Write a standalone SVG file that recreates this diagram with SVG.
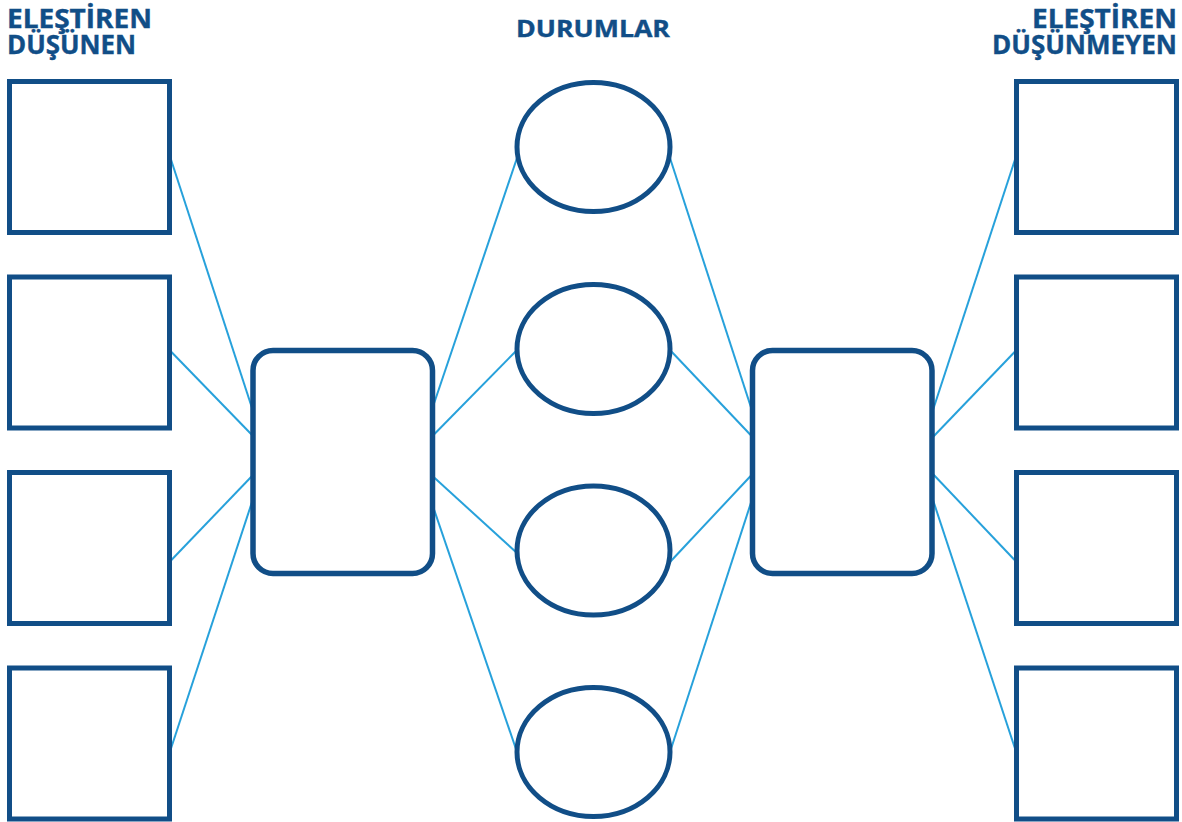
<svg xmlns="http://www.w3.org/2000/svg" width="1182" height="822" viewBox="0 0 1182 822">
<style>
.t{font-family:"Open Sans","Liberation Sans",sans-serif;font-weight:700;fill:#114e87;stroke:#114e87;stroke-width:0.4}
.sq{fill:#fff;stroke:#114e87;stroke-width:5}
.rr{fill:#fff;stroke:#114e87;stroke-width:5.5}
.el{fill:#fff;stroke:#114e87;stroke-width:5}
.c line{stroke:#27a1db;stroke-width:2}
</style>
<rect width="1182" height="822" fill="#fff"/>
<g id="titles">
<text class="t" x="7" y="28" font-size="26.5" textLength="145" lengthAdjust="spacingAndGlyphs">ELEŞTİREN</text>
<text class="t" x="7" y="54" font-size="26.5" textLength="129" lengthAdjust="spacingAndGlyphs">DÜŞÜNEN</text>
<text class="t" x="516" y="37" font-size="23.5" textLength="154" lengthAdjust="spacingAndGlyphs">DURUMLAR</text>
<text class="t" x="1032" y="28" font-size="26.5" textLength="145" lengthAdjust="spacingAndGlyphs">ELEŞTİREN</text>
<text class="t" x="992" y="54" font-size="26.5" textLength="185" lengthAdjust="spacingAndGlyphs">DÜŞÜNMEYEN</text>
</g>
<g id="connectors" class="c">
<line x1="169.5" y1="155" x2="253" y2="411"/>
<line x1="169.5" y1="350" x2="253" y2="436"/>
<line x1="169.5" y1="562" x2="253" y2="475"/>
<line x1="169.5" y1="753" x2="253" y2="499"/>
<line x1="432.5" y1="408" x2="517" y2="158"/>
<line x1="432.5" y1="436" x2="517" y2="350"/>
<line x1="432.5" y1="476" x2="517" y2="553"/>
<line x1="432.5" y1="505" x2="517" y2="752"/>
<line x1="670" y1="158" x2="752.5" y2="412"/>
<line x1="670" y1="350" x2="752.5" y2="437"/>
<line x1="670" y1="562" x2="752.5" y2="474"/>
<line x1="670" y1="752" x2="752.5" y2="498"/>
<line x1="932" y1="413" x2="1016.5" y2="155"/>
<line x1="932" y1="438" x2="1016.5" y2="350"/>
<line x1="932" y1="473" x2="1016.5" y2="562"/>
<line x1="932" y1="497" x2="1016.5" y2="753"/>
</g>
<g id="left1"><rect class="sq" x="9.5" y="81.5" width="160" height="151"/></g>
<g id="left2"><rect class="sq" x="9.5" y="277" width="160" height="151"/></g>
<g id="left3"><rect class="sq" x="9.5" y="472.5" width="160" height="151"/></g>
<g id="left4"><rect class="sq" x="9.5" y="668" width="160" height="151"/></g>
<g id="leftHub"><rect class="rr" x="253" y="350.5" width="179.5" height="223" rx="20"/></g>
<g id="case1"><ellipse class="el" cx="593.5" cy="147" rx="76.5" ry="64.5"/></g>
<g id="case2"><ellipse class="el" cx="593.5" cy="349" rx="76.5" ry="64.5"/></g>
<g id="case3"><ellipse class="el" cx="593.5" cy="550.5" rx="76.5" ry="64.5"/></g>
<g id="case4"><ellipse class="el" cx="593.5" cy="752" rx="76.5" ry="64.5"/></g>
<g id="rightHub"><rect class="rr" x="752.5" y="350.5" width="179.5" height="223" rx="20"/></g>
<g id="right1"><rect class="sq" x="1016.5" y="81.5" width="160" height="151"/></g>
<g id="right2"><rect class="sq" x="1016.5" y="277" width="160" height="151"/></g>
<g id="right3"><rect class="sq" x="1016.5" y="472.5" width="160" height="151"/></g>
<g id="right4"><rect class="sq" x="1016.5" y="668" width="160" height="151"/></g>
</svg>
